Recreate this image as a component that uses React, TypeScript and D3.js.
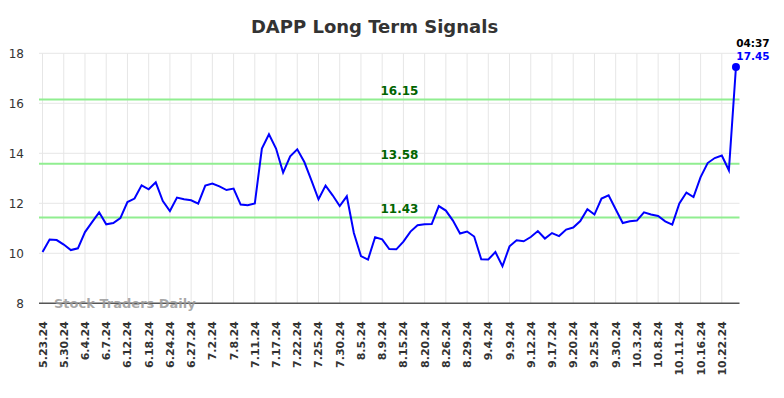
import React, { useEffect, useRef } from 'react';
import * as d3 from 'd3';

// tick labels, one every 3 sessions
const tickLabels = [
  '5.23.24', '5.30.24', '6.4.24', '6.7.24', '6.12.24', '6.18.24', '6.24.24', '6.27.24',
  '7.2.24', '7.8.24', '7.11.24', '7.17.24', '7.22.24', '7.25.24', '7.30.24', '8.5.24',
  '8.9.24', '8.15.24', '8.20.24', '8.26.24', '8.29.24', '9.4.24', '9.9.24', '9.12.24',
  '9.17.24', '9.20.24', '9.25.24', '9.30.24', '10.3.24', '10.8.24', '10.11.24', '10.16.24',
  '10.22.24',
];

const prices = [
  10.05, 10.55, 10.53, 10.35, 10.13, 10.2, 10.85, 11.25, 11.64, 11.16,
  11.21, 11.41, 12.05, 12.19, 12.72, 12.56, 12.84, 12.09, 11.69, 12.23,
  12.16, 12.12, 11.99, 12.71, 12.79, 12.68, 12.53, 12.59, 11.95, 11.92,
  11.99, 14.19, 14.76, 14.19, 13.23, 13.88, 14.16, 13.65, 12.92, 12.16,
  12.71, 12.32, 11.89, 12.28, 10.81, 9.89, 9.75, 10.64, 10.56, 10.17,
  10.16, 10.47, 10.87, 11.12, 11.16, 11.17, 11.89, 11.71, 11.31, 10.79,
  10.87, 10.67, 9.76, 9.75, 10.05, 9.48, 10.28, 10.52, 10.48, 10.65,
  10.89, 10.59, 10.81, 10.69, 10.95, 11.03, 11.29, 11.76, 11.55, 12.19,
  12.32, 11.76, 11.21, 11.28, 11.31, 11.64, 11.55, 11.49, 11.28, 11.15,
  11.99, 12.43, 12.25, 13.05, 13.61, 13.81, 13.91, 13.32, 17.45,
];

const signalLevels = [16.15, 13.58, 11.43];
const yTicks = [8, 10, 12, 14, 16, 18];
const lastTime = '04:37';

const width = 784;
const height = 398;

const App: React.FC = () => {
  const svgRef = useRef<SVGSVGElement>(null);

  useEffect(() => {
    if (!svgRef.current) return;
    const svg = d3.select(svgRef.current);
    svg.selectAll('*').remove();

    const font = 'DejaVu Sans, sans-serif';
    const left = 39;
    const right = 739.5;
    const top = 53.3;
    const bottom = 303.3;

    const x = d3.scaleLinear().domain([-0.5, prices.length - 0.5]).range([left, right]);
    const y = d3.scaleLinear().domain([8, 18]).range([bottom, top]);

    // grid
    const grid = svg.append('g');
    grid
      .selectAll('.vgrid')
      .data(tickLabels)
      .enter()
      .append('line')
      .attr('x1', (_d, i) => x(i * 3))
      .attr('x2', (_d, i) => x(i * 3))
      .attr('y1', top)
      .attr('y2', bottom)
      .style('stroke', '#e6e6e6')
      .style('stroke-width', 1);

    grid
      .selectAll('.hgrid')
      .data(yTicks.slice(1))
      .enter()
      .append('line')
      .attr('x1', left)
      .attr('x2', right)
      .attr('y1', (d) => y(d))
      .attr('y2', (d) => y(d))
      .style('stroke', '#e6e6e6')
      .style('stroke-width', 1);

    // y labels
    svg
      .selectAll('.ylab')
      .data(yTicks)
      .enter()
      .append('text')
      .attr('x', 24)
      .attr('y', (d) => y(d))
      .attr('dy', '0.35em')
      .attr('text-anchor', 'end')
      .style('font-family', font)
      .style('font-size', '12px')
      .style('fill', '#333')
      .text((d) => d);

    // x labels
    svg
      .selectAll('.xlab')
      .data(tickLabels)
      .enter()
      .append('text')
      .attr('transform', (_d, i) => `translate(${x(i * 3) + 4},${bottom + 18}) rotate(-90)`)
      .attr('text-anchor', 'end')
      .style('font-family', font)
      .style('font-size', '11px')
      .style('font-weight', 'bold')
      .style('fill', '#333')
      .text((d) => d);

    // signal lines
    svg
      .selectAll('.sig')
      .data(signalLevels)
      .enter()
      .append('line')
      .attr('x1', left)
      .attr('x2', right)
      .attr('y1', (d) => y(d))
      .attr('y2', (d) => y(d))
      .style('stroke', '#90ee90')
      .style('stroke-width', 2);

    svg
      .selectAll('.siglab')
      .data(signalLevels)
      .enter()
      .append('text')
      .attr('x', 399.5)
      .attr('y', (d) => y(d) - 5)
      .attr('text-anchor', 'middle')
      .style('font-family', font)
      .style('font-size', '12px')
      .style('font-weight', 'bold')
      .style('fill', '#006400')
      .text((d) => d.toFixed(2));

    // axis line
    svg
      .append('line')
      .attr('x1', left)
      .attr('x2', right)
      .attr('y1', bottom)
      .attr('y2', bottom)
      .style('stroke', '#555')
      .style('stroke-width', 1.5);

    // watermark
    svg
      .append('text')
      .attr('x', 54)
      .attr('y', 307.5)
      .style('font-family', font)
      .style('font-size', '13px')
      .style('font-weight', 'bold')
      .style('fill', '#999')
      .style('fill-opacity', 0.85)
      .text('Stock Traders Daily');

    // price line
    const line = d3
      .line<number>()
      .x((_d, i) => x(i))
      .y((d) => y(d));

    svg
      .append('path')
      .datum(prices)
      .attr('d', line)
      .style('fill', 'none')
      .style('stroke', '#0000ff')
      .style('stroke-width', 2);

    const lastIdx = prices.length - 1;
    svg
      .append('circle')
      .attr('cx', x(lastIdx))
      .attr('cy', y(prices[lastIdx]))
      .attr('r', 4)
      .style('fill', '#0000ff');

    svg
      .append('text')
      .attr('x', x(lastIdx) + 17)
      .attr('y', 47)
      .attr('text-anchor', 'middle')
      .style('font-family', font)
      .style('font-size', '10.5px')
      .style('font-weight', 'bold')
      .style('fill', '#000')
      .text(lastTime);

    svg
      .append('text')
      .attr('x', x(lastIdx) + 17)
      .attr('y', 60)
      .attr('text-anchor', 'middle')
      .style('font-family', font)
      .style('font-size', '10.5px')
      .style('font-weight', 'bold')
      .style('fill', '#0000ff')
      .text(prices[lastIdx].toFixed(2));

    // title
    svg
      .append('text')
      .attr('x', 374.5)
      .attr('y', 33)
      .attr('text-anchor', 'middle')
      .style('font-family', font)
      .style('font-size', '18px')
      .style('font-weight', 'bold')
      .style('fill', '#333')
      .text('DAPP Long Term Signals');
  }, []);

  return (
    <div style={{ position: 'absolute', left: 0, top: 0 }}>
      <svg ref={svgRef} width={width} height={height} style={{ display: 'block', background: '#fff' }} />
    </div>
  );
};

export default App;
